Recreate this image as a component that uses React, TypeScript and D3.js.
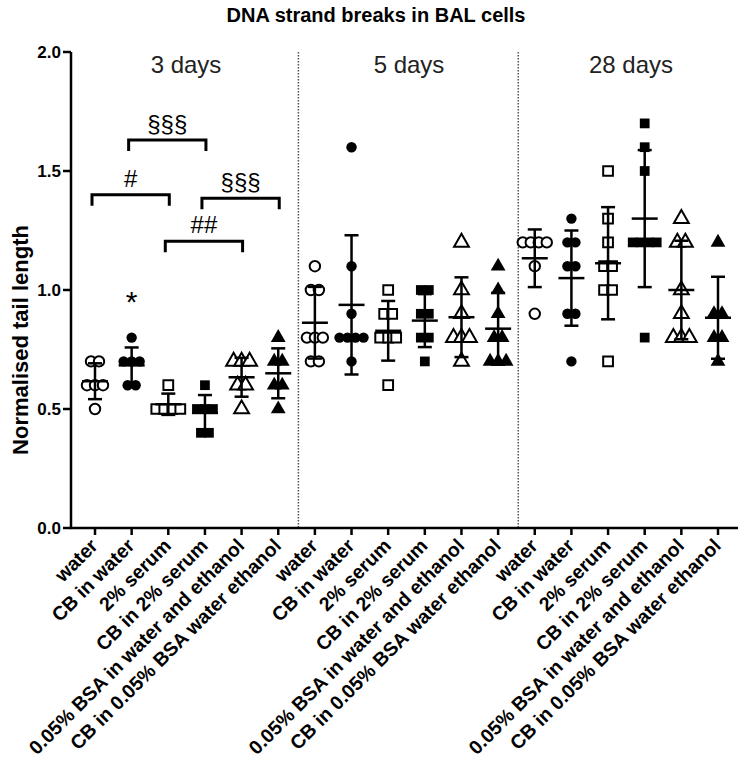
import React from "react";
import * as d3 from "d3";

const title = "DNA strand breaks in BAL cells";
const yTitle = "Normalised tail length";
const groups = ["3 days", "5 days", "28 days"];
const categories = [
  "water",
  "CB in water",
  "2% serum",
  "CB in 2% serum",
  "0.05% BSA in water and ethanol",
  "CB in 0.05% BSA water ethanol",
];
const yTicks = [0, 0.5, 1.0, 1.5, 2.0];

// values per category, per time point
const day3: number[][] = [
  [0.7, 0.7, 0.6, 0.6, 0.6, 0.5],
  [0.8, 0.7, 0.7, 0.7, 0.6, 0.6],
  [0.6, 0.5, 0.5, 0.5, 0.5],
  [0.6, 0.5, 0.5, 0.5, 0.4, 0.4],
  [0.7, 0.7, 0.7, 0.6, 0.6, 0.5],
  [0.8, 0.7, 0.7, 0.6, 0.6, 0.5],
];
const day5: number[][] = [
  [1.1, 1.0, 1.0, 0.8, 0.8, 0.8, 0.7, 0.7],
  [1.6, 1.1, 0.9, 0.8, 0.8, 0.8, 0.8, 0.7],
  [1.0, 0.9, 0.9, 0.8, 0.8, 0.8, 0.6],
  [1.0, 1.0, 0.9, 0.9, 0.8, 0.8, 0.7],
  [1.2, 1.0, 0.9, 0.8, 0.8, 0.8, 0.7],
  [1.1, 1.0, 0.9, 0.8, 0.8, 0.7, 0.7, 0.7],
];
const day28: number[][] = [
  [1.2, 1.2, 1.2, 1.2, 1.1, 0.9],
  [1.3, 1.2, 1.2, 1.1, 1.1, 0.9, 0.9, 0.7],
  [1.5, 1.3, 1.2, 1.1, 1.1, 1.0, 1.0, 0.7],
  [1.7, 1.6, 1.5, 1.2, 1.2, 1.2, 1.2, 0.8],
  [1.3, 1.2, 1.2, 1.0, 0.9, 0.8, 0.8, 0.8],
  [1.2, 0.9, 0.9, 0.8, 0.8, 0.7],
];
const allData = [day3, day5, day28];

// significance brackets in the 3-day group
const bracketFrom = [0, 1, 3, 2];
const bracketTo = [2, 3, 5, 4];
const bracketY = [1.4, 1.63, 1.385, 1.205];
const bracketLabel = ["#", "§§§", "§§§", "##"];
const starCategory = 1;
const starValue = 0.98;

const FONT = "'Liberation Sans', Arial, Helvetica, sans-serif";

export default function App() {
  const W = 745;
  const H = 765;
  const left = 71;
  const right = 738;
  const top = 52;
  const bottom = 528;

  const n = groups.length * categories.length;
  const x = d3
    .scalePoint<number>()
    .domain(d3.range(n))
    .range([95, 718]);
  const step = x.step();
  const y = d3.scaleLinear().domain([0, 2]).range([bottom, top]);

  const symCircle = d3.symbol().type(d3.symbolCircle).size(85)();
  const symSquare = d3.symbol().type(d3.symbolSquare).size(95)();
  const symTri = d3.symbol().type(d3.symbolTriangle).size(95)();
  const shapes = [symCircle, symCircle, symSquare, symSquare, symTri, symTri];
  const filled = [false, true, false, true, false, true];

  const marks: React.ReactNode[] = [];
  const bars: React.ReactNode[] = [];
  allData.forEach((grp, gi) => {
    grp.forEach((vals, ci) => {
      const idx = gi * categories.length + ci;
      const cx = x(idx)!;
      const counts = d3.rollup(
        vals,
        (v) => v.length,
        (v) => Math.round(v * 100)
      );
      const seen = new Map<number, number>();
      vals.forEach((v, k) => {
        const key = Math.round(v * 100);
        const c = counts.get(key)!;
        const j = seen.get(key) || 0;
        seen.set(key, j + 1);
        const off = (j - (c - 1) / 2) * 8;
        const f = filled[ci];
        marks.push(
          <path
            key={`m${idx}-${k}`}
            d={shapes[ci]!}
            transform={`translate(${cx + off},${y(v)})`}
            fill={f ? "#000" : "#fff"}
            stroke="#000"
            strokeWidth={f ? 0 : 2}
          />
        );
      });
      const m = d3.mean(vals)!;
      const sd = d3.deviation(vals)!;
      bars.push(
        <g key={`b${idx}`} stroke="#000" strokeWidth={2.5}>
          <line x1={cx} x2={cx} y1={y(m + sd)} y2={y(m - sd)} />
          <line x1={cx - 13} x2={cx + 13} y1={y(m)} y2={y(m)} />
          <line x1={cx - 7} x2={cx + 7} y1={y(m + sd)} y2={y(m + sd)} />
          <line x1={cx - 7} x2={cx + 7} y1={y(m - sd)} y2={y(m - sd)} />
        </g>
      );
    });
  });

  const sepX = [1, 2].map((g) => x(g * categories.length - 1)! + step * 0.55);
  const groupLabelX = [186, 409, 631];

  return (
    <svg
      width={W}
      height={H}
      style={{ position: "absolute", left: 0, top: 0, display: "block" }}
      fontFamily={FONT}
    >
      <rect width={W} height={H} fill="#fff" />
      <text x={376} y={22} textAnchor="middle" fontWeight="bold" fontSize={20}>
        {title}
      </text>

      {/* separators */}
      {sepX.map((sx, i) => (
        <line
          key={`s${i}`}
          x1={sx}
          x2={sx}
          y1={top}
          y2={bottom}
          stroke="#555"
          strokeWidth={1.5}
          strokeDasharray="1.5,1.5"
        />
      ))}

      {/* group labels */}
      {groups.map((g, gi) => (
        <text key={g} x={groupLabelX[gi]} y={73} textAnchor="middle" fontSize={24} fill="#222">
          {g}
        </text>
      ))}

      {/* y axis */}
      <line x1={left} x2={left} y1={top} y2={bottom} stroke="#000" strokeWidth={2.5} />
      {yTicks.map((t) => (
        <g key={`yt${t}`}>
          <line x1={left - 8} x2={left} y1={y(t)} y2={y(t)} stroke="#000" strokeWidth={2.5} />
          <text x={left - 10} y={y(t)} dy="0.36em" textAnchor="end" fontWeight="bold" fontSize={17}>
            {d3.format(".1f")(t)}
          </text>
        </g>
      ))}
      <text
        transform={`translate(28,${340}) rotate(-90)`}
        textAnchor="middle"
        fontWeight="bold"
        fontSize={22}
      >
        {yTitle}
      </text>

      {/* x axis */}
      <line x1={left - 1} x2={right} y1={bottom} y2={bottom} stroke="#000" strokeWidth={2.5} />
      {d3.range(n).map((i) => (
        <g key={`xt${i}`}>
          <line x1={x(i)} x2={x(i)} y1={bottom} y2={bottom + 7} stroke="#000" strokeWidth={2.5} />
          <text
            transform={`translate(${x(i)! + 4},${bottom + 19}) rotate(-45)`}
            textAnchor="end"
            fontWeight="bold"
            fontSize={19.5}
          >
            {categories[i % categories.length]}
          </text>
        </g>
      ))}

      {marks}
      {bars}

      {/* brackets */}
      {bracketFrom.map((f, i) => {
        const x1 = x(f)! - 3;
        const x2 = x(bracketTo[i])! + 1;
        const yy = y(bracketY[i]);
        return (
          <g key={`br${i}`}>
            <path
              d={`M${x1},${yy + 11}V${yy}H${x2}V${yy + 11}`}
              fill="none"
              stroke="#000"
              strokeWidth={3}
            />
            <text x={(x1 + x2) / 2} y={yy - 8} textAnchor="middle" fontSize={24}>
              {bracketLabel[i]}
            </text>
          </g>
        );
      })}
      <text x={x(starCategory)} y={y(starValue) + 17} textAnchor="middle" fontSize={30}>
        *
      </text>
    </svg>
  );
}
